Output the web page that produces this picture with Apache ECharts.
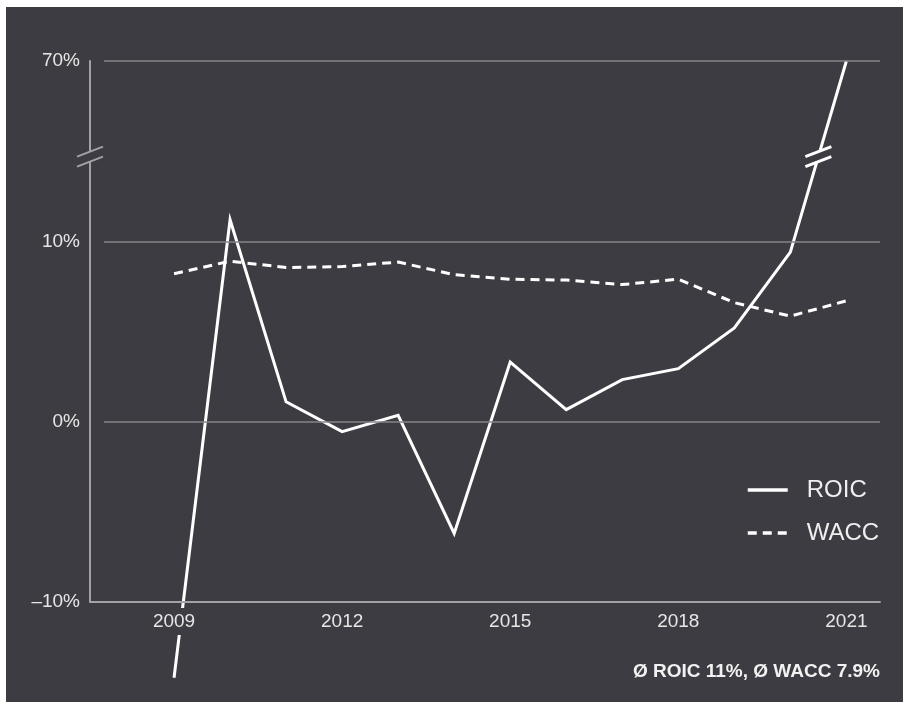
<!DOCTYPE html>
<html>
<head>
<meta charset="utf-8">
<script src="https://cdn.jsdelivr.net/npm/echarts@6/dist/echarts.min.js"></script>
<style>
  html, body { margin: 0; padding: 0; background: #fff; width: 903px; height: 702px; overflow: hidden; }
  #chart { position: absolute; left: 6px; top: 7px; width: 897px; height: 695px; }
</style>
</head>
<body>
<div id="chart"></div>
<script>
// values (percent)
const years = [2009, 2010, 2011, 2012, 2013, 2014, 2015, 2016, 2017, 2018, 2019, 2020, 2021];
const roic = [-14.2, 11.2, 1.1, -0.55, 0.35, -6.2, 3.3, 0.67, 2.33, 2.94, 5.2, 9.4, 70];
const wacc = [8.2, 8.9, 8.55, 8.6, 8.85, 8.15, 7.9, 7.85, 7.6, 7.9, 6.6, 5.85, 6.7];
const xTicks = [2009, 2012, 2015, 2018, 2021];
const yTicks = [-10, 0, 10, 70];
const gridValues = [0, 10, 70];
const yBreak = { start: 14.4, end: 65 };
const footnote = 'Ø ROIC 11%, Ø WACC 7.9%';

const BG = '#3d3c42';
const FONT = '"Liberation Sans", Arial, sans-serif';
const X_MIN = 2007.5, X_MAX = 2021.6, GRID_START = 2007.75;

const chart = echarts.init(document.getElementById('chart'));

chart.setOption({
  backgroundColor: BG,
  animation: false,
  textStyle: { fontFamily: FONT },
  grid: { left: 84, right: 23, top: 54, bottom: 100 },
  title: {
    text: footnote,
    right: 23,
    top: 655,
    padding: 0,
    textStyle: { color: '#f2f2f2', fontSize: 19, fontWeight: 'bold', fontFamily: FONT }
  },
  legend: {
    data: ['ROIC', 'WACC'],
    orient: 'vertical',
    left: 740,
    top: 471,
    padding: 0,
    itemWidth: 40,
    itemHeight: 20,
    itemGap: 19,
    selectedMode: false,
    itemStyle: { opacity: 0 },
    lineStyle: { width: 3.5 },
    textStyle: { color: '#efefef', fontSize: 24, fontFamily: FONT, padding: [0, 0, 0, 14] }
  },
  xAxis: {
    type: 'value',
    min: X_MIN,
    max: X_MAX,
    z: 3,
    axisLine: { onZero: false, lineStyle: { color: '#a3a2a7', width: 2 } },
    axisTick: { show: false },
    splitLine: { show: false },
    axisLabel: {
      customValues: xTicks,
      formatter: v => String(v),
      color: '#e6e6e6',
      fontSize: 19,
      margin: 6,
      padding: [4, 6, 4, 6],
      backgroundColor: BG
    }
  },
  yAxis: {
    type: 'value',
    min: -10,
    max: 70,
    breaks: [{ start: yBreak.start, end: yBreak.end, gap: 0.6 }],
    breakArea: { show: false },
    axisLine: { show: true, onZero: false, lineStyle: { color: '#a3a2a7', width: 2 } },
    axisTick: { show: false },
    splitLine: { show: false },
    axisLabel: {
      customValues: yTicks,
      formatter: v => (v < 0 ? '–' : '') + Math.abs(v) + '%',
      color: '#e6e6e6',
      fontSize: 19,
      margin: 10
    }
  },
  series: [
    {
      name: 'grid',
      type: 'line',
      data: [],
      z: 1,
      silent: true,
      markLine: {
        silent: true,
        symbol: 'none',
        label: { show: false },
        lineStyle: { color: '#85848a', width: 1.5, type: 'solid' },
        data: gridValues.map(v => [{ coord: [GRID_START, v] }, { coord: [X_MAX, v] }])
      }
    },
    {
      name: 'ROIC',
      type: 'line',
      data: years.map((y, i) => [y, roic[i]]),
      symbol: 'none',
      clip: false,
      z: 2,
      lineStyle: { color: '#ffffff', width: 3, join: 'miter', miterLimit: 20 },
      itemStyle: { color: '#ffffff' }
    },
    {
      name: 'WACC',
      type: 'line',
      data: years.map((y, i) => [y, wacc[i]]),
      symbol: 'none',
      z: 2,
      lineStyle: { color: '#ffffff', width: 3, type: [9, 6] },
      itemStyle: { color: '#ffffff' }
    }
  ]
});

// break markers: double slashes on the y axis line and on the ROIC line
const yA = chart.convertToPixel({ yAxisIndex: 0 }, yBreak.start);
const yB = chart.convertToPixel({ yAxisIndex: 0 }, yBreak.end);
const cy = (yA + yB) / 2;
const axisX = chart.convertToPixel({ xAxisIndex: 0 }, X_MIN);
const p0 = chart.convertToPixel({ gridIndex: 0 }, [years[11], roic[11]]);
const p1 = chart.convertToPixel({ gridIndex: 0 }, [years[12], roic[12]]);
const lineX = p0[0] + (p1[0] - p0[0]) * (cy - p0[1]) / (p1[1] - p0[1]);

function breakMark(cx, color, width) {
  const els = [{
    type: 'rect', z: 50,
    shape: { x: cx - 8, y: cy - 5, width: 16, height: 10 },
    style: { fill: BG }
  }];
  [-5, 5].forEach(off => {
    els.push({
      type: 'line', z: 51,
      shape: { x1: cx - 13, y1: cy + off + 5, x2: cx + 13, y2: cy + off - 5 },
      style: { stroke: color, lineWidth: width }
    });
  });
  return els;
}

chart.setOption({
  graphic: breakMark(axisX, '#a3a2a7', 2).concat(breakMark(lineX, '#ffffff', 3))
});
</script>
</body>
</html>
